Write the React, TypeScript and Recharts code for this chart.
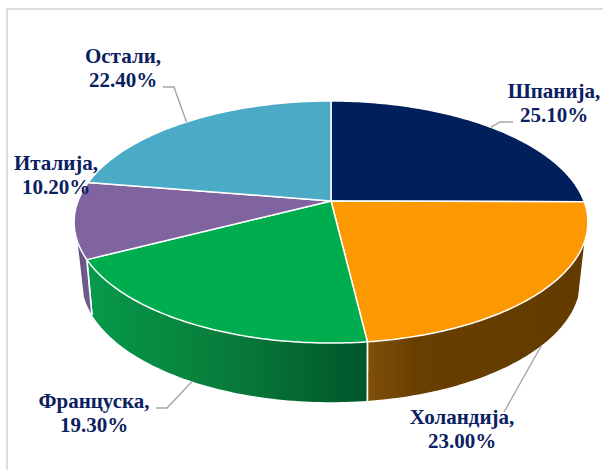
import React from "react";
import { PieChart, Pie } from "recharts";

const countries = ["Шпанија", "Холандија", "Француска", "Италија", "Остали"];
const shares = [25.1, 23.0, 19.3, 10.2, 22.4];

const topColors = ["#001f5b", "#fd9900", "#00ad4e", "#8064a0", "#4babc6"];
const wallStops: Record<number, string[]> = {
  1: ["#80500a", "#693f00", "#633b00"],
  2: ["#069a4b", "#087c3a", "#00562a"],
  3: ["#5f4b7c", "#6f5a8c", "#6f5a8c"],
};
const wallMiddle: Record<number, string> = { 1: "22%", 2: "50%", 3: "50%" };

const tableData = countries.map((name, i) => ({ name, value: shares[i], fill: topColors[i] }));

// where each label sits, and the elbow of its leader line
const labelSpots = [
  { x: 554, y: 98, line: [[500, 122], [513, 122]] },
  { x: 462, y: 424, line: [[504, 412]] },
  { x: 94, y: 408, line: [[167, 408], [156, 408]] },
  { x: 56, y: 170, line: [] as number[][] },
  { x: 123, y: 63, line: [[174, 87], [163, 87]] },
];

// perspective of the tilted disc, as ratios of the pie radius
const TOP = { b: 0.464, k: 0.1736 };
const BOTTOM = { a: 0.966, b: 0.4636, k: 0.2, drop: 54.6 };
const FRONT_RIGHT = -19.2;
const FRONT_LEFT = -160.8;

const RAD = Math.PI / 180;

const topPoint = (cx: number, cy: number, r: number, deg: number) => {
  const u = Math.cos(deg * RAD);
  const v = Math.sin(deg * RAD);
  const d = 1 + TOP.k * v;
  return [cx + (r * u) / d, cy - (r * TOP.b * v) / d];
};

const bottomPoint = (cx: number, cy: number, r: number, deg: number) => {
  const u = Math.cos(deg * RAD);
  const v = Math.sin(deg * RAD);
  const d = 1 + BOTTOM.k * v;
  return [cx + (r * BOTTOM.a * u) / d, cy + BOTTOM.drop - (r * BOTTOM.b * v) / d];
};

const sweep = (from: number, to: number) => {
  const n = Math.max(2, Math.ceil(Math.abs(from - to)));
  return Array.from({ length: n + 1 }, (_, i) => from + ((to - from) * i) / n);
};

const toPath = (pts: number[][]) =>
  "M" + pts.map((p) => `${p[0].toFixed(2)},${p[1].toFixed(2)}`).join("L") + "Z";

const Slice3D = (props: any) => {
  const { cx, cy, outerRadius: r, startAngle, endAngle, fill, index, name } = props;
  const idx = index ?? countries.indexOf(name);
  const wallFrom = Math.min(startAngle, FRONT_RIGHT);
  const wallTo = Math.max(endAngle, FRONT_LEFT);
  const hasWall = wallFrom > wallTo;
  const angles = sweep(startAngle, endAngle);
  const stops = wallStops[idx] ?? [fill, fill, fill];
  const gradId = `wall-${idx}`;

  return (
    <g>
      {hasWall && (
        <>
          <defs>
            <linearGradient id={gradId} x1="0" y1="0" x2="1" y2="0">
              <stop offset="0%" stopColor={stops[0]} />
              <stop offset={wallMiddle[idx]} stopColor={stops[1]} />
              <stop offset="100%" stopColor={stops[2]} />
            </linearGradient>
          </defs>
          <path
            d={toPath([
              ...sweep(wallFrom, wallTo).map((a) => topPoint(cx, cy, r, a)),
              ...sweep(wallTo, wallFrom).map((a) => bottomPoint(cx, cy, r, a)),
            ])}
            fill={`url(#${gradId})`}
          />
          {[startAngle, endAngle]
            .filter((a) => a < FRONT_RIGHT && a > FRONT_LEFT)
            .map((a) => {
              const p = topPoint(cx, cy, r, a);
              const q = bottomPoint(cx, cy, r, a);
              return <line key={a} x1={p[0]} y1={p[1]} x2={q[0]} y2={q[1]} stroke="#fff" strokeWidth={1.6} />;
            })}
        </>
      )}
      <path
        d={toPath([[cx, cy], ...angles.map((a) => topPoint(cx, cy, r, a))])}
        fill={fill}
        stroke="#fff"
        strokeWidth={1.5}
        strokeLinejoin="round"
      />
    </g>
  );
};

const SliceLabel = (props: any) => {
  const { cx, cy, outerRadius: r, midAngle, index, name, value } = props;
  const spot = labelSpots[index];
  const onWall = midAngle < FRONT_RIGHT && midAngle > FRONT_LEFT;
  const start = onWall ? bottomPoint(cx, cy, r, midAngle) : topPoint(cx, cy, r, midAngle);
  return (
    <g>
      {spot.line.length > 0 && (
        <polyline
          points={[start, ...spot.line].map((p) => p.join(",")).join(" ")}
          fill="none"
          stroke="#a6a6a6"
          strokeWidth={1.4}
        />
      )}
      <text
        textAnchor="middle"
        fontFamily="Liberation Serif"
        fontWeight="bold"
        fontSize={21}
        fill="#0a2060"
      >
        <tspan x={spot.x} y={spot.y}>{`${name},`}</tspan>
        <tspan x={spot.x} y={spot.y + 24}>{`${value.toFixed(2)}%`}</tspan>
      </text>
    </g>
  );
};

export default function App() {
  return (
    <div style={{ position: "absolute", left: 0, top: 0, width: 603, height: 470, overflow: "hidden", background: "#fff" }}>
      <div
        style={{
          position: "absolute",
          left: 6,
          top: 8,
          width: 700,
          height: 600,
          border: "2px solid #dedede",
        }}
      />
      <div style={{ position: "absolute", left: 0, top: 0 }}>
        <PieChart width={603} height={470} margin={{ top: 0, right: 0, bottom: 0, left: 0 }}>
          <Pie
            data={tableData}
            dataKey="value"
            nameKey="name"
            cx={331}
            cy={201}
            innerRadius={0}
            outerRadius={253}
            startAngle={90}
            endAngle={-270}
            stroke="none"
            shape={Slice3D}
            label={SliceLabel}
            labelLine={false}
            isAnimationActive={false}
          />
        </PieChart>
      </div>
    </div>
  );
}
